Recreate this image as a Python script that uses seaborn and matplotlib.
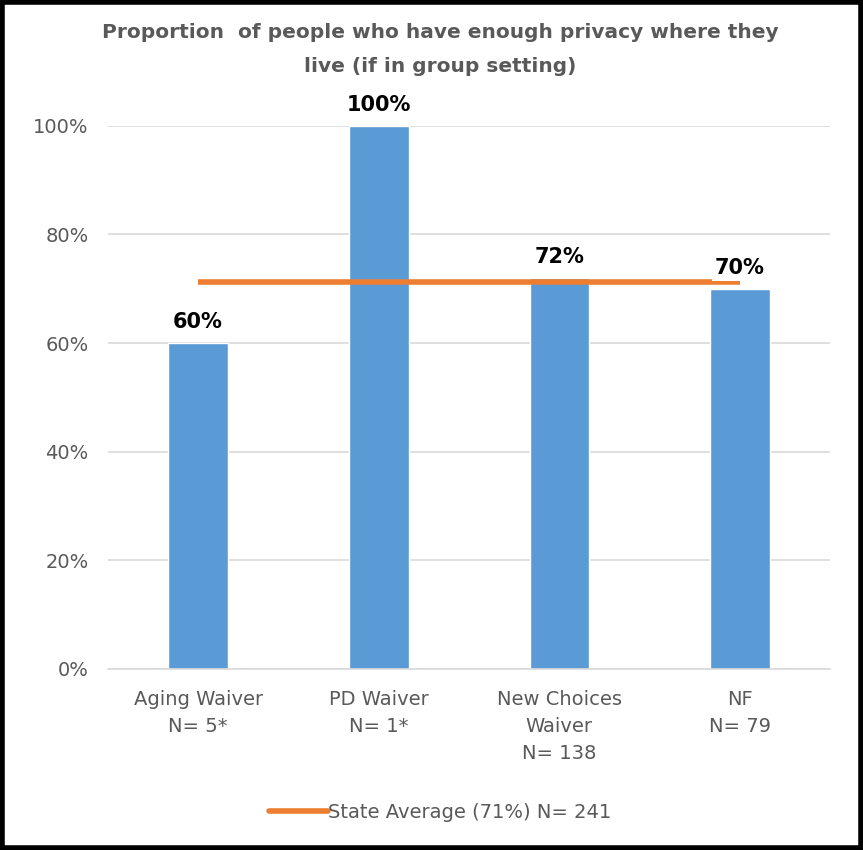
import pandas as pd
import seaborn as sns
import matplotlib.pyplot as plt
from matplotlib.patches import Rectangle
from matplotlib.lines import Line2D

# Data
categories = ['Aging Waiver\nN= 5*', 'PD Waiver\nN= 1*', 'New Choices\nWaiver\nN= 138', 'NF\nN= 79']
values = [0.60, 1.00, 0.72, 0.70]
labels = ['60%', '100%', '72%', '70%']
state_avg = 0.713
avg_label = 'State Average (71%) N= 241'
title = 'Proportion  of people who have enough privacy where they\nlive (if in group setting)'

sns.set_style('white')
plt.rcParams['font.family'] = ['DejaVu Sans']

df = pd.DataFrame({'group': categories, 'value': values})

fig = plt.figure(figsize=(8.63, 8.5), dpi=100)
ax = fig.add_axes([0.125, 0.213, 0.837, 0.639])

sns.barplot(data=df, x='group', y='value', color='#5B9BD5', width=0.33,
            saturation=1, ax=ax, zorder=2)

# state average line across the categories
ax.plot(range(len(categories)), [state_avg] * len(categories), color='#ED7D31',
        linewidth=4, zorder=3, solid_capstyle='butt')

# data labels
for i, (v, lab) in enumerate(zip(values, labels)):
    ax.annotate(lab, xy=(i, v), xytext=(0, 8), textcoords='offset points',
                ha='center', va='bottom', fontsize=15, fontweight='bold', color='black',
                bbox=dict(boxstyle='square,pad=0.15', fc='white', ec='none'), zorder=4)

ax.set_ylim(0, 1)
ax.set_yticks([0, 0.2, 0.4, 0.6, 0.8, 1.0])
ax.set_yticklabels(['0%', '20%', '40%', '60%', '80%', '100%'])
ax.set_xlim(-0.5, len(categories) - 0.5)
ax.yaxis.grid(True, color='#D9D9D9', linewidth=1.2)
ax.set_axisbelow(True)
for s in ['top', 'right', 'left']:
    ax.spines[s].set_visible(False)
ax.spines['bottom'].set_color('#D9D9D9')
ax.spines['bottom'].set_linewidth(1.2)
ax.tick_params(axis='both', length=0, labelsize=14, labelcolor='#595959')
ax.tick_params(axis='x', pad=15)
ax.tick_params(axis='y', pad=14)
for t in ax.get_xticklabels():
    t.set_verticalalignment('top')
    t.set_linespacing(1.55)
ax.set_xlabel('')
ax.set_ylabel('')

fig.text(0.51, 0.973, title, ha='center', va='top', fontsize=14.5, fontweight='bold',
         color='#595959', linespacing=2.0)

handle = Line2D([], [], color='#ED7D31', linewidth=4)
fig.legend([handle], [avg_label], loc='center', bbox_to_anchor=(0.51, 0.044),
           frameon=False, fontsize=14, labelcolor='#595959', handlelength=3.0,
           handletextpad=0.0)

# black frame around the figure
fig.patches.append(Rectangle((0.002, 0.002), 0.996, 0.996, transform=fig.transFigure,
                             fill=False, edgecolor='black', linewidth=4))

fig.savefig('out.png', dpi=100)
